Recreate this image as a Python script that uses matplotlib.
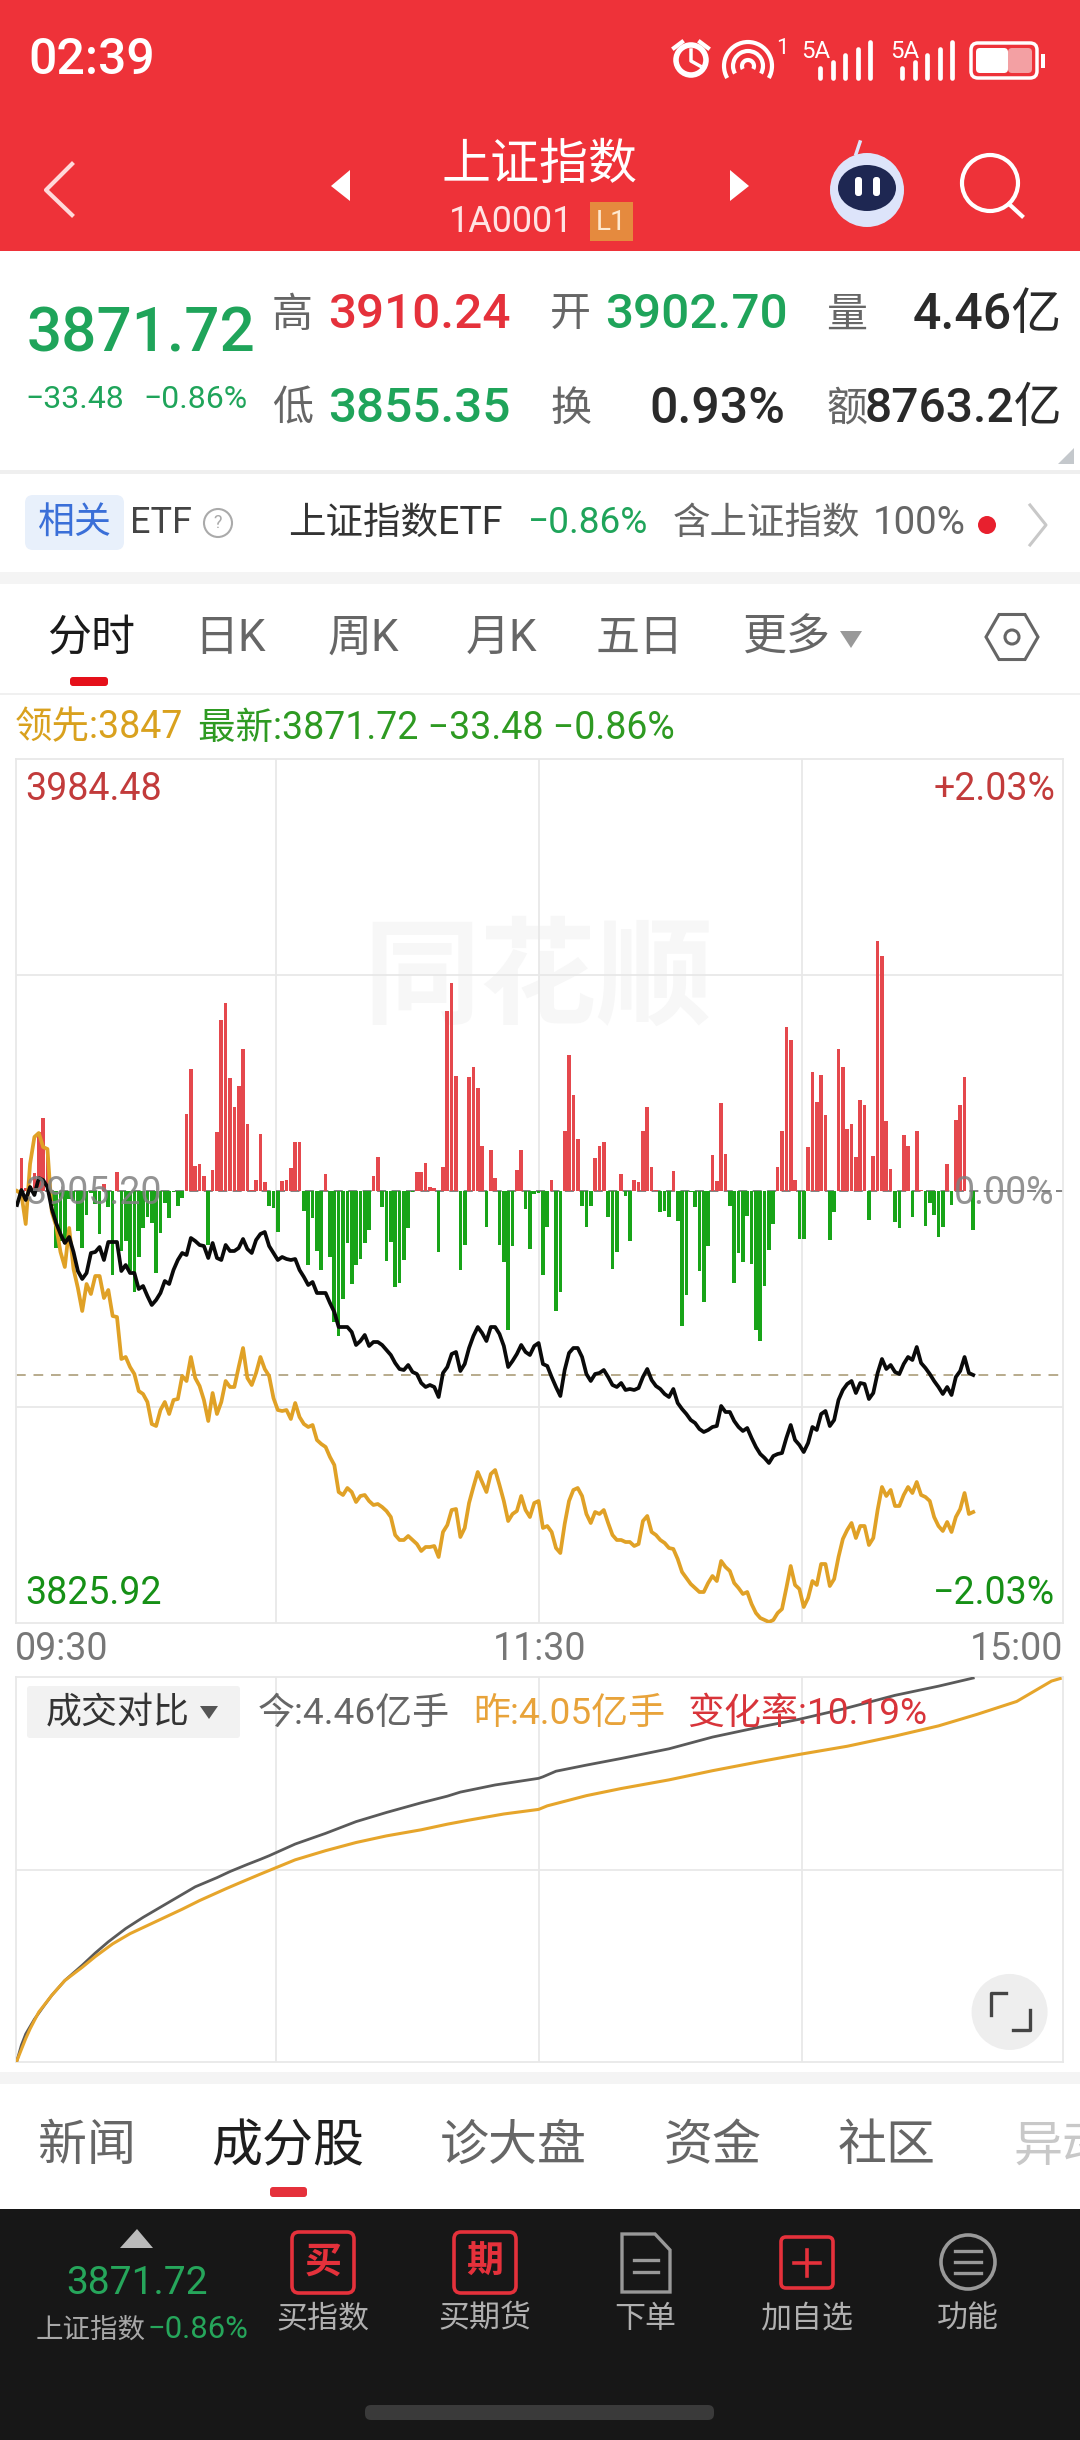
import numpy as np
from matplotlib import pyplot as plt
from matplotlib.patches import Rectangle, FancyBboxPatch, Circle, Ellipse, Arc, Polygon

plt.rcParams['font.family'] = ['Roboto', 'Noto Sans CJK SC', 'DejaVu Sans']

# everything below was read off the screenshot
# change from previous close, in pixels of the picture (216 = 2.03%), + means below
index_drop = [14,-1,9,-4,4,-13,-11,-4,18,32,43,52,46,61,80,88,82,62,61,56,
    69,51,51,51,80,74,82,82,98,95,105,114,109,102,90,93,79,69,62,64,
    47,50,54,55,67,52,67,69,54,60,60,57,48,58,62,49,43,41,55,62,
    69,66,68,69,68,79,86,94,91,102,102,102,112,121,136,136,136,141,154,150,
    144,155,151,151,154,159,164,172,178,179,174,181,183,192,196,194,196,206,182,176,
    163,161,180,173,157,145,136,142,150,136,136,143,155,176,170,163,154,161,164,155,
    152,173,175,186,196,205,179,162,157,157,166,183,190,183,182,179,186,194,196,192,
    199,198,199,197,186,178,189,195,198,203,206,198,212,218,223,229,232,238,241,239,
    236,235,215,221,221,230,236,240,237,247,256,263,267,272,265,263,262,247,234,249,
    254,261,252,236,239,223,220,235,229,209,199,193,190,202,192,193,208,202,182,168,
    178,174,181,183,173,166,169,156,172,177,183,190,196,203,196,204,186,180,166,182,184]
lead_drop = [0,3,33,-27,-54,-58,-44,-42,21,35,61,76,37,78,97,120,93,103,85,85,
    107,99,125,126,168,166,176,183,200,203,211,233,235,219,211,223,209,208,185,190,
    166,187,195,209,230,202,223,211,190,196,196,176,157,187,194,182,166,178,185,207,
    219,220,219,228,212,226,233,236,234,249,253,256,266,274,301,304,297,301,311,305,
    304,310,314,313,316,320,326,344,349,349,345,349,353,360,356,356,355,366,341,334,
    319,318,346,337,312,296,281,291,301,283,279,294,310,330,323,320,305,319,326,312,
    310,337,335,341,357,362,333,310,299,297,305,323,332,321,323,319,332,344,349,349,
    351,351,355,353,330,325,341,344,349,352,357,358,368,381,387,393,397,401,401,392,
    385,390,370,376,380,392,397,403,401,413,422,427,429,431,429,422,418,397,375,394,
    398,416,407,390,394,373,373,395,388,366,348,339,332,347,335,335,354,347,319,296,
    305,299,315,315,304,296,302,291,304,306,310,326,335,340,331,341,326,318,302,323,321]
flow = [0,33,3,5,18,59,73,43,-15,-57,-50,-53,-8,-10,-40,-57,-24,-2,-13,-43,
    7,-16,-84,19,-60,-50,-80,-101,-66,-37,-26,-32,-82,-42,-12,-27,-1,-15,-7,77,
    122,25,27,15,-54,21,59,171,188,113,84,105,142,67,1,11,57,9,-15,-17,
    -41,10,11,23,49,49,-20,-74,-27,-60,-79,17,-66,-131,-145,-108,-52,-93,-74,-68,
    -52,-39,15,34,-16,-70,-51,-96,-92,-69,-37,-1,19,19,28,4,3,-61,24,180,
    208,115,-79,-54,114,124,103,45,-36,41,13,-54,-71,-139,-55,21,41,-18,-58,-3,
    -2,-84,-36,11,-120,-101,60,136,96,52,-15,-36,-15,33,45,49,-26,-78,-61,17,
    -5,-50,11,9,60,84,24,1,-21,-20,-26,20,-30,-135,-104,-1,-16,-80,-111,-55,
    36,10,88,37,-15,-92,-62,-71,-25,-73,-139,-150,-95,-59,-33,24,60,164,151,11,
    -48,-48,44,119,89,116,76,-49,-21,142,124,62,67,34,91,86,-29,35,250,235,
    70,22,-31,-37,56,45,-26,60,1,-35,-12,-24,-46,-36,27,-14,71,86,114,0,-39]

today_min = [0,1,2,4,6,8,11,15,18,21,25,29,33,37,41,46,49,53,56,58,64,71,78,85,93,99,102,110,120,121,124,131,139,150,160,171,180,190,202,212,220]
today_vol = [3,33,55,84,108,131,160,190,214,236,262,284,304,324,344,362,374,388,398,405,428,449,472,490,509,522,530,544,557,560,571,583,596,615,638,658,673,693,720,738,754]
prev_min = [0,2,3,5,8,11,15,18,22,26,30,34,38,42,48,51,56,60,64,71,78,85,93,99,104,112,120,122,131,139,150,160,171,180,191,202,212,221,230,235,238,240]
prev_vol = [3,46,65,98,131,160,186,207,232,252,268,284,300,317,340,351,369,383,397,415,431,444,456,467,475,487,496,503,523,537,554,572,590,604,620,640,660,683,708,733,748,753]

price_labels = ['3984.48', '3825.92']
pct_labels = ['+2.03%', '−2.03%']
time_labels = ['09:30', '11:30', '15:00']
tabs = ['日K', '周K', '月K', '五日', '更多']
tab_x = [194, 328, 466, 596, 743]
news_tabs = ['新闻', '诊大盘', '资金', '社区']
news_x = [87, 513, 713, 887]

RED = '#EE3239'
GREEN = '#1FA45A'
QRED = '#E5313B'

fig = plt.figure(figsize=(10.8, 24.4), dpi=100, facecolor='white')
ui = fig.add_axes([0, 0, 1, 1])
ui.set_xlim(0, 1080)
ui.set_ylim(2440, 0)
ui.axis('off')


def txt(x, y, s, px, color, ha='left', weight='normal', **kw):
    # text sits a little low in the app, +3 keeps the y values at the glyph centres
    return ui.text(x, y + 3, s, fontsize=px * 0.72, color=color, ha=ha, va='center', weight=weight, **kw)


def box(x0, y0, x1, y1, color, z=1):
    ui.add_patch(Rectangle((x0, y0), x1 - x0, y1 - y0, fc=color, ec='none', zorder=z))


def pill(x0, y0, x1, y1, color, r=4, ec='none', lw=0, fill=True, z=2):
    ui.add_patch(FancyBboxPatch((x0 + r, y0 + r), x1 - x0 - 2 * r, y1 - y0 - 2 * r,
                                boxstyle='round,pad=%d' % r, fc=color if fill else 'none', ec=ec, lw=lw, zorder=z))


# header
box(0, 0, 1080, 251, RED)
txt(28, 57, '02:39', 50, 'white', weight='medium')
ui.add_patch(Circle((691, 60), 15, fc='none', ec='white', lw=4, zorder=3))
ui.plot([691, 691, 700], [50, 61, 66], color='white', lw=2.5, zorder=3)
ui.plot([674, 682], [48, 42], color='white', lw=3, zorder=3)
ui.plot([700, 708], [42, 48], color='white', lw=3, zorder=3)
for r in [6, 15, 24]:
    ui.add_patch(Arc((748, 66), r * 2, r * 2, theta1=150, theta2=390, ec='white', lw=3, zorder=3))
txt(776, 46, '1', 22, 'white', ha='left')
for x5a, x0 in [(801, 820), (890, 902)]:
    txt(x5a, 48, '5A', 24, 'white')
    for j in range(5):
        ui.plot([x0 + j * 12.5] * 2, [78, 68 - j * 6.5], color='white', lw=3.4, solid_capstyle='round', zorder=3)
pill(971, 43, 1037, 78, 'none', r=7, ec='white', lw=2.5, fill=False, z=3)
pill(976, 48, 1008, 73, 'white', r=4, z=3)
pill(1008, 48, 1032, 73, '#F3A0A3', r=4, z=3)
box(1041, 54, 1045, 68, 'white', z=3)

ui.plot([72, 46, 72], [164, 190, 215], color='#FFD9DA', lw=3, zorder=3)
txt(540, 163, '上证指数', 49, 'white', ha='center')
txt(511, 219, '1A0001', 36, '#FFE3E3', ha='center')
box(590, 202, 633, 241, '#E58A3E', z=2)
txt(611, 219, 'L1', 28, '#FFE9D0', ha='center')
ui.add_patch(Polygon([[350, 170], [350, 201], [331, 186]], fc='white', ec='none', zorder=3))
ui.add_patch(Polygon([[730, 170], [730, 201], [749, 186]], fc='white', ec='none', zorder=3))
ui.add_patch(Circle((867, 190), 37, fc='#DDE4FA', ec='none', zorder=3))
ui.add_patch(Ellipse((867, 188), 58, 46, fc='#1E2752', ec='none', zorder=4))
pill(855, 177, 862, 196, 'white', r=3, z=5)
pill(873, 177, 880, 196, 'white', r=3, z=5)
ui.plot([856, 860], [154, 142], color='#DDE4FA', lw=2.5, zorder=3)
ui.add_patch(Circle((990, 183), 28, fc='none', ec='white', lw=3, zorder=3))
ui.plot([1009, 1022], [204, 216], color='white', lw=3, zorder=3)

# quote block
txt(27, 331, '3871.72', 62, GREEN, weight='medium')
txt(25, 397, '−33.48', 32, GREEN)
txt(143, 397, '−0.86%', 32, GREEN)
for x, y, s in [(272, 312, '高'), (550, 312, '开'), (826, 312, '量'), (272, 406, '低'), (550, 406, '换'), (826, 406, '额')]:
    txt(x, y, s, 41, '#666666')
txt(328, 312, '3910.24', 49.5, QRED, weight='medium')
txt(605, 312, '3902.70', 49.5, GREEN, weight='medium')
txt(328, 406, '3855.35', 49.5, GREEN, weight='medium')
txt(1062, 312, '4.46亿', 50, '#2A2A2A', ha='right', weight='medium')
txt(785, 406, '0.93%', 50, '#2A2A2A', ha='right', weight='medium')
txt(1062, 406, '8763.2亿', 48, '#2A2A2A', ha='right', weight='medium')
ui.add_patch(Polygon([[1074, 448], [1074, 464], [1058, 464]], fc='#C4C8CC', ec='none', zorder=2))
box(0, 470, 1080, 474, '#EFEFEF')

# etf row
pill(25, 495, 124, 550, '#E8F0FB', r=8)
txt(75, 520, '相关', 37, '#3A6FD8', ha='center', zorder=3)
txt(130, 520, 'ETF', 36, '#444444')
ui.add_patch(Circle((218, 523), 14, fc='none', ec='#AAAAAA', lw=1.5, zorder=2))
txt(218, 520, '?', 18, '#AAAAAA', ha='center')
txt(288, 520, '上证指数ETF', 37.5, '#333333')
txt(528, 520, '−0.86%', 37, GREEN)
txt(673, 520, '含上证指数', 37.5, '#666666')
txt(873, 520, '100%', 38.5, '#666666')
ui.add_patch(Circle((987, 525), 9, fc='#E8202E', ec='none', zorder=2))
ui.plot([1030, 1046, 1030], [505, 525, 545], color='#C8C8C8', lw=2.2)
box(0, 572, 1080, 584, '#F4F4F4')

# period tabs
txt(47, 636, '分时', 44, '#1A1A1A', weight='medium')
for x, s in zip(tab_x, tabs):
    txt(x, 636, s, 44, '#666666')
ui.add_patch(Polygon([[840, 631], [862, 631], [851, 648]], fc='#999999', ec='none', zorder=2))
hex_a = np.radians(np.arange(0, 360, 60))
ui.add_patch(Polygon(np.c_[1012 + 26 * np.cos(hex_a), 637 + 26 * np.sin(hex_a)], fc='none', ec='#666666', lw=2.2, zorder=2))
ui.add_patch(Circle((1012, 637), 7, fc='none', ec='#666666', lw=2.2, zorder=2))
pill(70, 677, 108, 686, '#E5101A', r=3)
box(0, 693, 1080, 695, '#F0F0F0')

txt(15, 725, '领先:3847', 37.5, '#D9A11E')
txt(198, 725, '最新:3871.72 −33.48 −0.86%', 37.5, '#2E9A22')

# minute chart
ax = fig.add_axes([15.5 / 1080, 1 - 1623 / 2440, (1063 - 15.5) / 1080, 864 / 2440], facecolor='none')
minutes = np.arange(len(index_drop))
ax.set_xlim(-0.35, 240.65)
ax.set_ylim(-432, 432)
ax.set_xticks([59.65, 120.15, 180.65])
ax.set_yticks([-216, 216])
ax.tick_params(length=0, labelbottom=False, labelleft=False)
ax.grid(color='#E8E8E8', lw=1.3)
ax.set_axisbelow(True)
for s in ax.spines.values():
    s.set_color('#E8E8E8')
    s.set_linewidth(1.3)
ax.text(120, 208, '同花顺', fontsize=84, color='#F7F7F7', ha='center', va='center', weight='bold', zorder=0)
ax.axhline(0, color='#777777', lw=1.3, ls=(0, (5, 3)), zorder=1)
ax.axhline(-index_drop[-1], color='#B8AB8C', lw=1.4, ls=(0, (5, 4)), zorder=1)
ax.bar(minutes, flow, width=0.84, color=['#E5484D' if v >= 0 else '#18A418' for v in flow], zorder=2)
ax.plot(minutes, -np.array(lead_drop), color='#E0A126', lw=2.7, zorder=3)
ax.plot(minutes, -np.array(index_drop), color='#0A0A0A', lw=2.7, zorder=4)

txt(25, 787, price_labels[0], 37.5, '#C23B3B', zorder=6)
txt(1055, 787, pct_labels[0], 37.5, '#C23B3B', ha='right', zorder=6)
txt(25, 1590, price_labels[1], 37.5, '#169016', zorder=6)
txt(1055, 1590, pct_labels[1], 37.5, '#169016', ha='right', zorder=6)
ax.text(0.009, 0.497, '3905.20', transform=ax.transAxes, fontsize=27, color='#808080', va='center', alpha=0.85, zorder=6)
ax.text(0.992, 0.497, '0.00%', transform=ax.transAxes, fontsize=27, color='#808080', ha='right', va='center', alpha=0.85, zorder=6)
txt(15, 1646, time_labels[0], 37.5, '#777777')
txt(540, 1646, time_labels[1], 37.5, '#777777', ha='center')
txt(1063, 1646, time_labels[2], 37.5, '#777777', ha='right')

# volume chart
vx = fig.add_axes([15.5 / 1080, 1 - 2062 / 2440, (1063 - 15.5) / 1080, 385 / 2440], facecolor='none')
vx.set_xlim(-0.35, 240.65)
vx.set_ylim(0, 756)
vx.set_xticks([59.65, 120.15, 180.65])
vx.set_yticks([378])
vx.tick_params(length=0, labelbottom=False, labelleft=False)
vx.grid(color='#E8E8E8', lw=1.3)
vx.set_axisbelow(True)
for s in vx.spines.values():
    s.set_color('#E8E8E8')
    s.set_linewidth(1.3)
vx.plot(today_min, today_vol, color='#5A5A5A', lw=2.0, zorder=3)
vx.plot(prev_min, prev_vol, color='#E6A52B', lw=2.2, zorder=4)

pill(27, 1686, 240, 1738, '#F2F2F2', r=3, z=5)
txt(46, 1710, '成交对比', 36, '#333333', zorder=6)
ui.add_patch(Polygon([[200, 1706], [218, 1706], [209, 1719]], fc='#555555', ec='none', zorder=6))
fig_t = [(258, '今:4.46亿手', '#666666'), (473, '昨:4.05亿手', '#E8A33A'), (687, '变化率:10.19%', '#D8343A')]
for x, s, c in fig_t:
    vx.text((x - 15.5) / 1047.5, 1 - (1714 - 1677) / 385, s, transform=vx.transAxes, fontsize=37 * 0.72,
            color=c, va='center', zorder=6)
vx.add_patch(Ellipse((0.949, 0.13), 76 / 1047.5, 76 / 385, transform=vx.transAxes, fc='#EEEEEE', ec='none', zorder=5))
for xs, ys in [([991, 991, 1006], [2015, 1993, 1993]), ([1030, 1030, 1013], [2010, 2030, 2030])]:
    vx.plot((np.array(xs) - 15.5) / 1047.5, 1 - (np.array(ys) - 1677) / 385, transform=vx.transAxes, color='#444444', lw=2.4, zorder=6)

box(0, 2072, 1080, 2084, '#F4F4F4')

# news tabs
for x, s in zip(news_x, news_tabs):
    txt(x, 2144, s, 49, '#666666', ha='center')
txt(288, 2144, '成分股', 51, '#1E1E1E', ha='center', weight='medium')
txt(1013, 2144, '异动', 49, '#C8C8C8', clip_on=True)
pill(270, 2187, 307, 2197, QRED, r=3)

# bottom bar
box(0, 2209, 1080, 2440, '#171717', z=3)
ui.add_patch(Polygon([[120, 2248], [153, 2248], [137, 2229]], fc='#BBBBBB', ec='none', zorder=4))
txt(137, 2281, '3871.72', 39, '#26A65B', ha='center', zorder=4)
txt(36, 2327, '上证指数', 27.5, '#A8A8A8', zorder=4)
txt(148, 2327, '−0.86%', 31, '#26A65B', zorder=4)
labels = [(323, '买指数'), (485, '买期货'), (645, '下单'), (807, '加自选'), (968, '功能')]
for x, s in labels:
    txt(x, 2316, s, 31, '#B0B0B0', ha='center', zorder=4)
for x, s in [(323, '买'), (485, '期')]:
    pill(x - 31, 2232, x + 31, 2293, 'none', r=7, ec='#E5313B', lw=2.6, fill=False, z=4)
    txt(x, 2260, s, 37, '#E5313B', ha='center', weight='bold', zorder=5)
ui.add_patch(Polygon([[622, 2234], [655, 2234], [670, 2250], [670, 2292], [622, 2292]], fc='none', ec='#999999', lw=2.4, zorder=4))
ui.plot([634, 658], [2260, 2260], color='#999999', lw=2.4, zorder=4)
ui.plot([634, 658], [2272, 2272], color='#999999', lw=2.4, zorder=4)
pill(781, 2237, 833, 2288, 'none', r=5, ec='#E5313B', lw=2.6, fill=False, z=4)
ui.plot([794, 820], [2263, 2263], color='#E5313B', lw=2.6, zorder=5)
ui.plot([807, 807], [2250, 2276], color='#E5313B', lw=2.6, zorder=5)
ui.add_patch(Circle((968, 2262), 27, fc='none', ec='#999999', lw=2.6, zorder=4))
for yy in [2251, 2262, 2273]:
    ui.plot([955, 981], [yy, yy], color='#999999', lw=2.4, zorder=5)
pill(365, 2405, 714, 2420, '#3A3A3A', r=6, z=4)

fig.savefig('out.png', dpi=100, facecolor='white')
